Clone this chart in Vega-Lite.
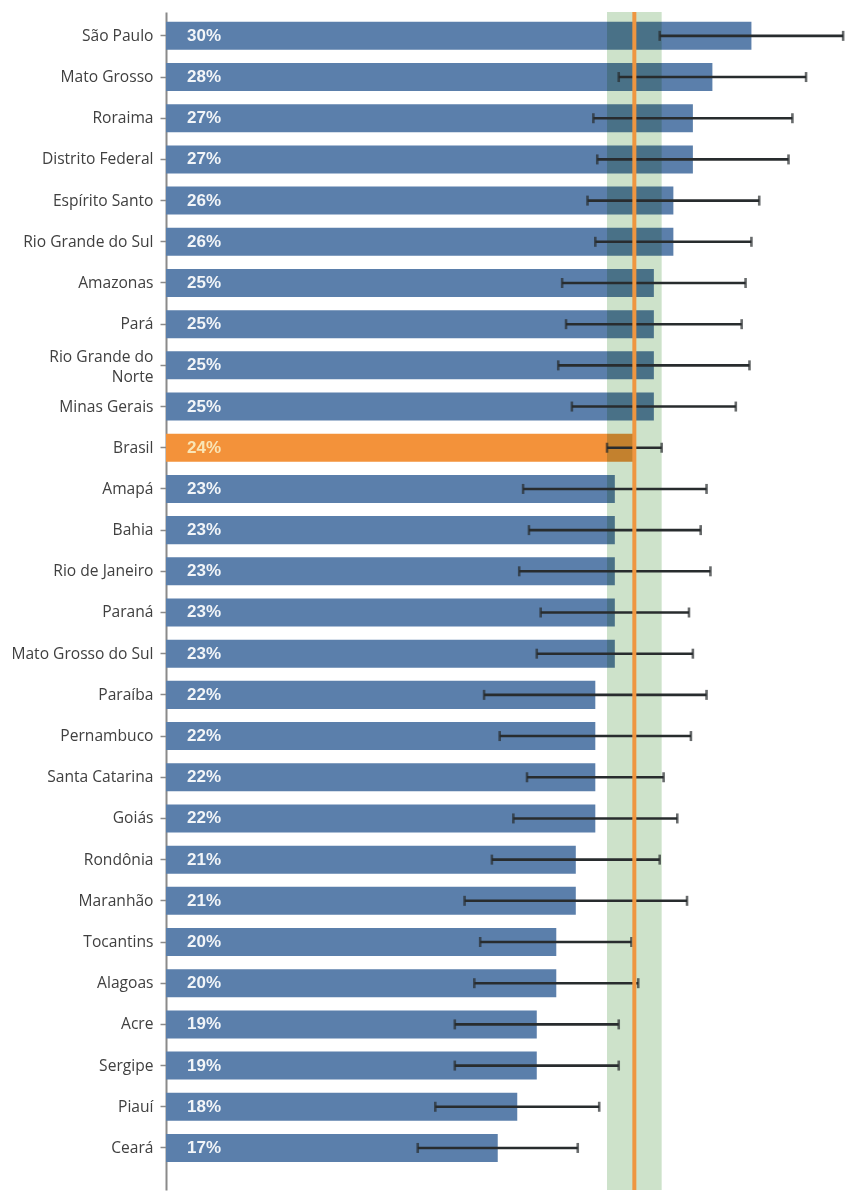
{
  "$schema": "https://vega.github.io/schema/vega-lite/v6.json",
  "autosize": {"type": "none"},
  "width": 683,
  "height": 1178,
  "padding": {"left": 166, "top": 12, "right": 14, "bottom": 10},
  "background": "#ffffff",
  "config": {"view": {"stroke": null}},
  "data": {
    "values": [
      {"estado": "São Paulo", "valor": 30, "lo": 25.3, "hi": 34.7, "tipo": "estado"},
      {"estado": "Mato Grosso", "valor": 28, "lo": 23.2, "hi": 32.8, "tipo": "estado"},
      {"estado": "Roraima", "valor": 27, "lo": 21.9, "hi": 32.1, "tipo": "estado"},
      {"estado": "Distrito Federal", "valor": 27, "lo": 22.1, "hi": 31.9, "tipo": "estado"},
      {"estado": "Espírito Santo", "valor": 26, "lo": 21.6, "hi": 30.4, "tipo": "estado"},
      {"estado": "Rio Grande do Sul", "valor": 26, "lo": 22.0, "hi": 30.0, "tipo": "estado"},
      {"estado": "Amazonas", "valor": 25, "lo": 20.3, "hi": 29.7, "tipo": "estado"},
      {"estado": "Pará", "valor": 25, "lo": 20.5, "hi": 29.5, "tipo": "estado"},
      {"estado": "Rio Grande do Norte", "valor": 25, "lo": 20.1, "hi": 29.9, "tipo": "estado"},
      {"estado": "Minas Gerais", "valor": 25, "lo": 20.8, "hi": 29.2, "tipo": "estado"},
      {"estado": "Brasil", "valor": 24, "lo": 22.6, "hi": 25.4, "tipo": "brasil"},
      {"estado": "Amapá", "valor": 23, "lo": 18.3, "hi": 27.7, "tipo": "estado"},
      {"estado": "Bahia", "valor": 23, "lo": 18.6, "hi": 27.4, "tipo": "estado"},
      {"estado": "Rio de Janeiro", "valor": 23, "lo": 18.1, "hi": 27.9, "tipo": "estado"},
      {"estado": "Paraná", "valor": 23, "lo": 19.2, "hi": 26.8, "tipo": "estado"},
      {"estado": "Mato Grosso do Sul", "valor": 23, "lo": 19.0, "hi": 27.0, "tipo": "estado"},
      {"estado": "Paraíba", "valor": 22, "lo": 16.3, "hi": 27.7, "tipo": "estado"},
      {"estado": "Pernambuco", "valor": 22, "lo": 17.1, "hi": 26.9, "tipo": "estado"},
      {"estado": "Santa Catarina", "valor": 22, "lo": 18.5, "hi": 25.5, "tipo": "estado"},
      {"estado": "Goiás", "valor": 22, "lo": 17.8, "hi": 26.2, "tipo": "estado"},
      {"estado": "Rondônia", "valor": 21, "lo": 16.7, "hi": 25.3, "tipo": "estado"},
      {"estado": "Maranhão", "valor": 21, "lo": 15.3, "hi": 26.7, "tipo": "estado"},
      {"estado": "Tocantins", "valor": 20, "lo": 16.1, "hi": 23.85, "tipo": "estado"},
      {"estado": "Alagoas", "valor": 20, "lo": 15.8, "hi": 24.2, "tipo": "estado"},
      {"estado": "Acre", "valor": 19, "lo": 14.8, "hi": 23.2, "tipo": "estado"},
      {"estado": "Sergipe", "valor": 19, "lo": 14.8, "hi": 23.2, "tipo": "estado"},
      {"estado": "Piauí", "valor": 18, "lo": 13.8, "hi": 22.2, "tipo": "estado"},
      {"estado": "Ceará", "valor": 17, "lo": 12.9, "hi": 21.1, "tipo": "estado"}
    ]
  },
  "encoding": {
    "y": {
      "field": "estado",
      "type": "nominal",
      "sort": null,
      "scale": {"paddingInner": 0.32, "paddingOuter": 0.46, "align": 0.26},
      "axis": {
        "title": null,
        "labelFont": "Open Sans",
        "labelFontSize": 15.6,
        "labelColor": "#404040",
        "labelPadding": 7,
        "labelLineHeight": 19.5,
        "labelOverlap": false,
        "labelOffset": {"condition": {"test": "datum.value == 'Rio Grande do Norte'", "value": -8}, "value": 0},
        "labelExpr": "datum.value == 'Rio Grande do Norte' ? ['Rio Grande do', 'Norte'] : datum.value",
        "tickColor": "#8a8a8a",
        "tickSize": 6,
        "tickWidth": 1.5,
        "domainColor": "#8a8a8a",
        "domainWidth": 2
      }
    }
  },
  "layer": [
    {
      "mark": {"type": "bar"},
      "encoding": {
        "x": {"field": "valor", "type": "quantitative", "scale": {"domain": [0, 35], "nice": false}, "axis": null},
        "color": {
          "field": "tipo",
          "type": "nominal",
          "scale": {"domain": ["estado", "brasil"], "range": ["#5b7fab", "#f3923a"]},
          "legend": null
        }
      }
    },
    {
      "transform": [{"filter": "datum.tipo == 'brasil'"}],
      "mark": {"type": "rect", "color": "#cde2ca", "blend": "multiply"},
      "encoding": {
        "x": {"field": "lo", "type": "quantitative"},
        "x2": {"field": "hi"},
        "y": null
      }
    },
    {
      "mark": {
        "type": "errorbar",
        "color": "#282c2e",
        "thickness": 2.6,
        "ticks": {"size": 10, "thickness": 2.6}
      },
      "encoding": {
        "x": {"field": "lo", "type": "quantitative"},
        "x2": {"field": "hi"}
      }
    },
    {
      "transform": [{"filter": "datum.tipo == 'brasil'"}],
      "mark": {"type": "rule", "color": "#ef9640", "strokeWidth": 4},
      "encoding": {
        "x": {"field": "valor", "type": "quantitative"},
        "y": null
      }
    },
    {
      "transform": [{"calculate": "format(datum.valor, '.0f') + '%'", "as": "rotulo"}],
      "mark": {
        "type": "text",
        "align": "left",
        "baseline": "middle",
        "dx": 21,
        "font": "Liberation Sans",
        "fontWeight": "bold",
        "fontSize": 17
      },
      "encoding": {
        "x": {"datum": 0},
        "text": {"field": "rotulo", "type": "nominal"},
        "color": {
          "condition": {"test": "datum.tipo == 'brasil'", "value": "#f9e5b6"},
          "value": "#f2f5f8"
        }
      }
    }
  ]
}
